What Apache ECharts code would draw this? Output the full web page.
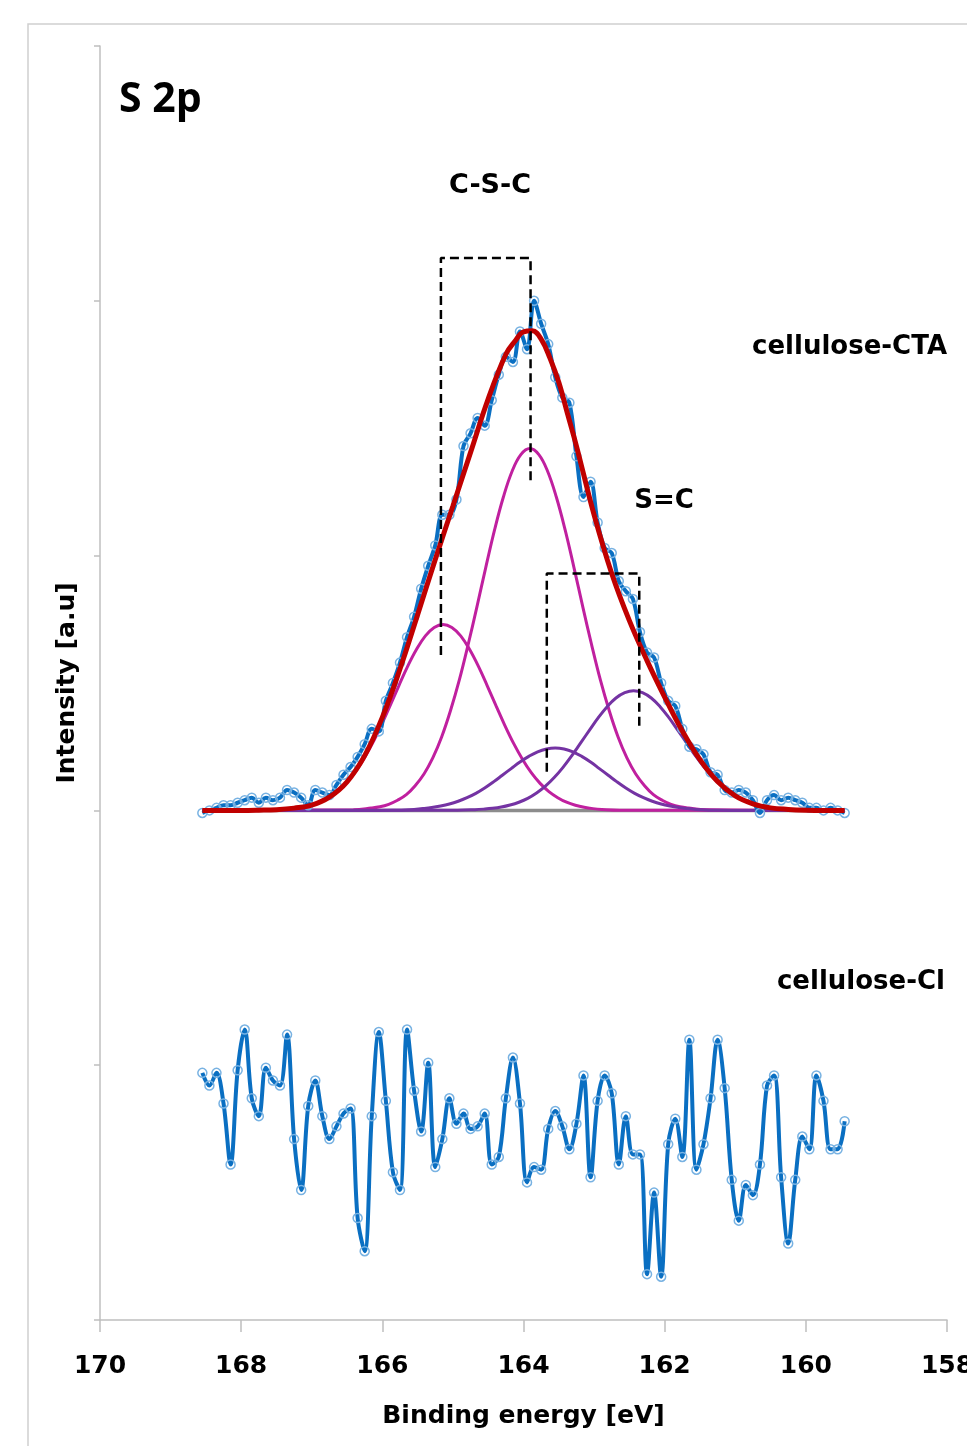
<!DOCTYPE html>
<html>
<head>
<meta charset="utf-8">
<script src="https://cdn.jsdelivr.net/npm/echarts@6/dist/echarts.min.js"></script>
<style>
html,body{margin:0;padding:0;background:#fff;}
#chart{width:967px;height:1446px;}
</style>
</head>
<body>
<div id="chart"></div>
<script>
// Binding energies (eV) of the measured points (shared by both spectra)
const energies = [168.55,168.45,168.35,168.25,168.15,168.05,167.95,167.85,167.75,167.65,
167.55,167.45,167.35,167.25,167.15,167.05,166.95,166.85,166.75,166.65,
166.55,166.45,166.35,166.25,166.15,166.05,165.95,165.85,165.75,165.65,
165.55,165.45,165.35,165.25,165.15,165.05,164.95,164.85,164.75,164.65,
164.55,164.45,164.35,164.25,164.15,164.05,163.95,163.85,163.75,163.65,
163.55,163.45,163.35,163.25,163.15,163.05,162.95,162.85,162.75,162.65,
162.55,162.45,162.35,162.25,162.15,162.05,161.95,161.85,161.75,161.65,
161.55,161.45,161.35,161.25,161.15,161.05,160.95,160.85,160.75,160.65,
160.55,160.45,160.35,160.25,160.15,160.05,159.95,159.85,159.75,159.65,
159.55,159.45];

// cellulose-CTA measured intensity (offset spectrum, a.u.)
const ctaIntensity = [1.99,2.00,2.01,2.02,2.02,2.03,2.04,2.05,2.03,2.05,
2.04,2.05,2.08,2.07,2.05,2.02,2.08,2.07,2.06,2.10,
2.14,2.17,2.21,2.26,2.32,2.31,2.43,2.50,2.58,2.68,
2.76,2.87,2.96,3.04,3.16,3.16,3.22,3.43,3.48,3.54,
3.51,3.61,3.71,3.78,3.76,3.88,3.81,4.00,3.91,3.83,
3.70,3.62,3.60,3.39,3.23,3.29,3.13,3.03,3.01,2.90,
2.86,2.83,2.70,2.62,2.60,2.50,2.43,2.41,2.32,2.25,
2.24,2.22,2.15,2.14,2.08,2.07,2.08,2.07,2.04,1.99,
2.04,2.06,2.04,2.05,2.04,2.03,2.01,2.01,2.00,2.01,
2.00,1.99];

// cellulose-Cl measured intensity (a.u.)
const clIntensity = [0.97,0.92,0.97,0.85,0.61,0.98,1.14,0.87,0.80,0.99,
0.94,0.92,1.12,0.71,0.51,0.84,0.94,0.80,0.71,0.76,
0.81,0.83,0.40,0.27,0.80,1.13,0.86,0.58,0.51,1.14,
0.90,0.74,1.01,0.60,0.71,0.87,0.77,0.81,0.75,0.76,
0.81,0.61,0.64,0.87,1.03,0.85,0.54,0.60,0.59,0.75,
0.82,0.76,0.67,0.77,0.96,0.56,0.86,0.96,0.89,0.61,
0.80,0.65,0.65,0.18,0.50,0.17,0.69,0.79,0.64,1.10,
0.59,0.69,0.87,1.10,0.91,0.55,0.39,0.53,0.49,0.61,
0.92,0.96,0.56,0.30,0.55,0.72,0.67,0.96,0.86,0.67,
0.67,0.78];

// Fit envelope (red)
const envelopeX = [168.55,168.25,168.0,167.75,167.5,167.25,167.0,166.75,166.5,166.25,166.0,165.75,165.5,165.25,165.0,164.75,164.5,164.25,164.125,164.0,163.875,163.75,163.625,163.5,163.375,163.25,163.0,162.75,162.5,162.25,162.0,161.75,161.5,161.25,161.0,160.75,160.5,160.25,160.0,159.75,159.45];
const envelopeY = [2.0,2.0,2.0,2.001,2.003,2.009,2.021,2.052,2.112,2.215,2.365,2.555,2.768,2.985,3.195,3.405,3.615,3.79,3.84,3.878,3.882,3.85,3.775,3.68,3.555,3.43,3.16,2.93,2.745,2.588,2.445,2.312,2.199,2.113,2.057,2.026,2.01,2.004,2.001,2.0,2.0];

// C-S-C component 2p3/2 (magenta)
const cscAX = [168.55,166.41,166.16,166.035,165.91,165.785,165.66,165.535,165.41,165.285,165.16,165.035,164.91,164.785,164.66,164.535,164.41,164.285,164.16,164.035,163.91,
163.785,163.66,163.535,163.41,163.285,163.16,163.035,162.91,162.785,162.66,162.535,162.41,162.285,162.16,162.035,161.91,161.785,161.66,161.41,159.45];
const cscAY = [2.0,2.003,2.009,2.014,2.024,2.040,2.062,2.097,2.143,2.206,2.288,2.391,2.511,2.650,2.799,2.953,3.101,3.230,3.332,3.397,3.42,
3.397,3.332,3.230,3.101,2.953,2.799,2.650,2.511,2.391,2.288,2.206,2.143,2.097,2.062,2.040,2.024,2.014,2.009,2.003,2.0];
// C-S-C component 2p1/2 (magenta)
const cscBX = [168.55,167.64,167.39,167.265,167.14,167.015,166.89,166.765,166.64,166.515,166.39,166.265,166.14,166.015,165.89,165.765,165.64,165.515,165.39,165.265,165.14,
165.015,164.89,164.765,164.64,164.515,164.39,164.265,164.14,164.015,163.89,163.765,163.64,163.515,163.39,163.265,163.14,163.015,162.89,162.64,159.45];
const cscBY = [2.0,2.001,2.004,2.007,2.012,2.020,2.032,2.050,2.074,2.106,2.148,2.201,2.263,2.334,2.411,2.490,2.566,2.632,2.685,2.718,2.73,
2.718,2.685,2.632,2.566,2.490,2.411,2.334,2.263,2.201,2.148,2.106,2.074,2.050,2.032,2.020,2.012,2.007,2.004,2.001,2.0];
// S=C component 2p3/2 (purple)
const scAX = [168.55,164.94,164.69,164.565,164.44,164.315,164.19,164.065,163.94,163.815,163.69,163.565,163.44,163.315,163.19,163.065,162.94,162.815,162.69,162.565,162.44,
162.315,162.19,162.065,161.94,161.815,161.69,161.565,161.44,161.315,161.19,161.065,160.94,160.815,160.69,160.565,160.44,160.315,160.19,159.94,159.45];
const scAY = [2.0,2.001,2.003,2.005,2.008,2.013,2.021,2.032,2.047,2.068,2.095,2.129,2.169,2.215,2.265,2.315,2.364,2.407,2.441,2.462,2.47,
2.462,2.441,2.407,2.364,2.315,2.265,2.215,2.169,2.129,2.095,2.068,2.047,2.032,2.021,2.013,2.008,2.005,2.003,2.001,2.0];
// S=C component 2p1/2 (purple)
const scBX = [168.55,166.05,165.80,165.675,165.55,165.425,165.30,165.175,165.05,164.925,164.80,164.675,164.55,164.425,164.30,164.175,164.05,163.925,163.80,163.675,163.55,
163.425,163.30,163.175,163.05,162.925,162.80,162.675,162.55,162.425,162.30,162.175,162.05,161.925,161.80,161.675,161.55,161.425,161.30,161.05,159.45];
const scBY = [2.0,2.0,2.001,2.002,2.004,2.007,2.011,2.017,2.025,2.036,2.050,2.067,2.088,2.112,2.138,2.164,2.190,2.212,2.230,2.241,2.245,
2.241,2.230,2.212,2.190,2.164,2.138,2.112,2.088,2.067,2.050,2.036,2.025,2.017,2.011,2.007,2.004,2.002,2.001,2.0,2.0];

// Background line
const baselineX = [168.55,159.45];
const baselineY = [2.0,2.0];

// Annotation brackets (energy, intensity)
const cscBracketX = [165.17,165.17,163.90,163.90];
const cscBracketY = [2.61,4.168,4.168,3.277];
const scBracketX = [163.67,163.67,162.36,162.36];
const scBracketY = [2.152,2.930,2.930,2.316];

const xTicks = {min:158, max:170, interval:2};

const pairs = (xs, ys) => xs.map((x, i) => [x, ys[i]]);
const FONT = '"DejaVu Sans", sans-serif';

const chart = echarts.init(document.getElementById('chart'), null, {renderer:'canvas'});

const blueData = (data) => ({
  type:'line', data, smooth:0.35, showAllSymbol:true, symbol:'circle', symbolSize:9,
  lineStyle:{color:'#0a6fc2', width:4},
  itemStyle:{color:'rgba(255,255,255,0)', borderColor:'#78b2e2', borderWidth:1.5},
  z:3
});
const fitLine = (data, color, width, z) => ({
  type:'line', data, smooth:0.4, showSymbol:false,
  lineStyle:{color, width}, z
});
const bracket = (data) => ({
  type:'line', data, showSymbol:false, smooth:false,
  lineStyle:{color:'#000', width:2.5, type:[9,5]}, z:6
});

chart.setOption({
  animation:false,
  backgroundColor:'#fff',
  grid:{left:100, right:20, top:46, bottom:126, containLabel:false, outerBoundsMode:'none'},
  xAxis:{
    type:'value', min:xTicks.min, max:xTicks.max, interval:xTicks.interval, inverse:true,
    name:'Binding energy [eV]', nameLocation:'middle', nameGap:84,
    nameTextStyle:{fontFamily:FONT, fontWeight:'bold', fontSize:25, color:'#000'},
    axisLine:{show:true, lineStyle:{color:'#bfbfbf', width:1.5}},
    axisTick:{show:true, length:12, lineStyle:{color:'#bfbfbf', width:1.5}},
    axisLabel:{fontFamily:FONT, fontWeight:'bold', fontSize:25, color:'#000', margin:34, showMaxLabel:true, showMinLabel:true},
    splitLine:{show:false}
  },
  yAxis:{
    type:'value', min:0, max:5, interval:1,
    name:'Intensity [a.u]', nameLocation:'middle', nameGap:20, nameRotate:90,
    nameTextStyle:{fontFamily:FONT, fontWeight:'bold', fontSize:25, color:'#000'},
    axisLine:{show:true, lineStyle:{color:'#bfbfbf', width:1.5}},
    axisTick:{show:true, length:6, lineStyle:{color:'#bfbfbf', width:1.5}},
    axisLabel:{show:false},
    splitLine:{show:false}
  },
  graphic:[
    {type:'rect', shape:{x:28, y:24, width:960, height:1440}, style:{fill:'none', stroke:'#d0d0d0', lineWidth:1.5}, z:-1},
    {type:'text', style:{text:'S 2p', x:119, y:100, font:'bold 41px "Open Sans", sans-serif', fill:'#000', textVerticalAlign:'middle'}},
    {type:'text', style:{text:'C-S-C', x:490, y:186, font:'bold 27px '+FONT, fill:'#000', textAlign:'center', textVerticalAlign:'middle'}},
    {type:'text', style:{text:'S=C', x:664, y:501, font:'bold 26px '+FONT, fill:'#000', textAlign:'center', textVerticalAlign:'middle'}},
    {type:'text', style:{text:'cellulose-CTA', x:947, y:347, font:'bold 26px '+FONT, fill:'#000', textAlign:'right', textVerticalAlign:'middle'}},
    {type:'text', style:{text:'cellulose-Cl', x:945, y:982, font:'bold 26px '+FONT, fill:'#000', textAlign:'right', textVerticalAlign:'middle'}}
  ],
  series:[
    fitLine(pairs(baselineX, baselineY), '#8c8c8c', 3.5, 1),
    fitLine(pairs(cscBX, cscBY), '#c0209f', 3, 2),
    fitLine(pairs(cscAX, cscAY), '#c0209f', 3, 2),
    fitLine(pairs(scBX, scBY), '#7433a3', 3, 2),
    fitLine(pairs(scAX, scAY), '#7433a3', 3, 2),
    blueData(pairs(energies, ctaIntensity)),
    fitLine(pairs(envelopeX, envelopeY), '#c00000', 5, 4),
    blueData(pairs(energies, clIntensity)),
    bracket(pairs(cscBracketX, cscBracketY)),
    bracket(pairs(scBracketX, scBracketY))
  ]
});
</script>
</body>
</html>
